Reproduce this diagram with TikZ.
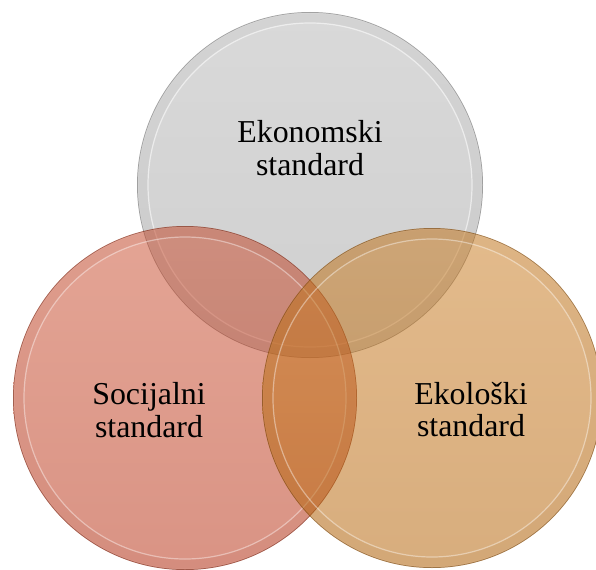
\documentclass[tikz,border=0pt]{standalone}
\usepackage{fontspec}
\setmainfont{Liberation Serif}
\begin{document}
\begin{tikzpicture}[x=1bp,y=-1bp,
  venn/.style={circle, minimum size=2*#1 bp, inner sep=0pt},
  label/.style={align=center, font=\fontsize{32}{32.5}\selectfont, text=black},
  rimline/.style={line width=0.7bp, draw opacity=0.45},
]
\useasboundingbox (0,0) rectangle (596,570);
\definecolor{grayc}{RGB}{173,173,173}
\definecolor{grayd}{RGB}{160,160,160}
\definecolor{redc}{RGB}{196,58,24}
\definecolor{redd}{RGB}{180,40,10}
\definecolor{orc}{RGB}{196,112,14}
\definecolor{ord}{RGB}{180,98,6}

% circles as named nodes
\node[venn=173] (eko) at (310,185) {};
\node[venn=172] (soc) at (185,398) {};
\node[venn=170] (ekl) at (432,398) {};

% gray circle
\shade[top color=grayc!92!white, bottom color=grayd, fill opacity=0.5] (eko.center) circle[radius=173];
\draw[grayd!70!black, line width=9bp, draw opacity=0.05] (eko.center) circle[radius=167];
\draw[white, line width=1.2bp, draw opacity=0.55] (eko.center) circle[radius=162];
\draw[grayd!60!black, rimline] (eko.center) circle[radius=172.6];

% red circle
\shade[top color=redc!92!white, bottom color=redd, fill opacity=0.5] (soc.center) circle[radius=172];
\draw[redd!70!black, line width=9bp, draw opacity=0.05] (soc.center) circle[radius=166];
\draw[white, line width=1.2bp, draw opacity=0.4] (soc.center) circle[radius=161];
\draw[redd!50!black, rimline] (soc.center) circle[radius=171.6];

% orange circle
\shade[top color=orc!92!white, bottom color=ord, fill opacity=0.52] (ekl.center) circle[radius=170];
\draw[ord!70!black, line width=9bp, draw opacity=0.05] (ekl.center) circle[radius=164];
\draw[white, line width=1.2bp, draw opacity=0.4] (ekl.center) circle[radius=159];
\draw[ord!50!black, rimline] (ekl.center) circle[radius=169.6];

% labels
\node[label] (t1) at (310,148) {Ekonomski\\standard};
\node[label] (t2) at (149,410) {Socijalni\\standard};
\node[label] (t3) at (471,409.5) {Ekološki\\standard};
\end{tikzpicture}
\end{document}
